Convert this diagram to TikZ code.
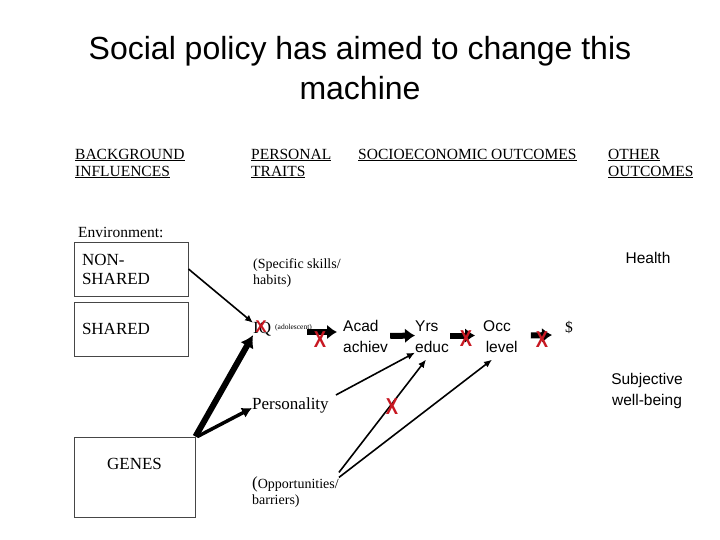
\documentclass[tikz,border=0pt]{standalone}
\usepackage{fontspec}
\setmainfont{Liberation Serif}
\setsansfont{Liberation Sans}
\usetikzlibrary{arrows.meta}
\definecolor{xred}{RGB}{200,24,34}
\definecolor{boxline}{RGB}{70,70,70}
\begin{document}
\begin{tikzpicture}[x=1pt,y=-1pt,
  head/.style={font=\fontsize{15.5}{17}\selectfont, inner sep=0pt, anchor=west, align=left},
  serif/.style={font=\fontsize{#1}{#1}\selectfont, inner sep=0pt, anchor=west, align=left},
  sans/.style={font=\sffamily\fontsize{15.5}{21}\selectfont, inner sep=0pt, align=left},
  bigbox/.style={draw=boxline, line width=1pt, font=\fontsize{17}{19}\selectfont, align=left, inner xsep=8pt},
  redx/.style={text=xred, font=\sffamily\fontsize{23}{23}\selectfont, inner sep=0pt, xscale=0.8},
  thin arrow/.style={line width=1.6pt, -{Latex[length=8pt,width=7pt]}},
  fat arrow/.style={line width=6pt, -{Latex[length=10pt,width=15pt]}},
]
\useasboundingbox (0,0) rectangle (720,540);
\fill[white] (0,0) rectangle (720,540);

% title
\node[font=\sffamily\fontsize{32}{40}\selectfont, align=center] (title) at (360,68)
  {Social policy has aimed to change this\\machine};

% headers
\node[head] (hbg) at (75,163.5) {\underline{BACKGROUND}\\\underline{INFLUENCES}};
\node[head] (hpt) at (251,163.5) {\underline{PERSONAL}\\\underline{TRAITS}};
\node[head] (hse) at (358,155) {\underline{SOCIOECONOMIC OUTCOMES}};
\node[head] (hot) at (608,163.5) {\underline{OTHER}\\\underline{OUTCOMES}};

% background column
\node[serif=15.5] (env) at (78,232) {Environment:};
\node[bigbox, minimum width=114, minimum height=54, text width=98pt] (nonshared) at (131,269) {NON-\\SHARED};
\node[bigbox, minimum width=114, minimum height=54, text width=98pt] (shared) at (131,329) {SHARED};
\node[bigbox, minimum width=121, minimum height=80, align=center, text height=12pt, text depth=28pt] (genes) at (134.5,477) {GENES};

% personal traits column
\node[serif=14, font=\fontsize{14}{16}\selectfont] (skills) at (253,273) {(Specific skills/\\habits)};
\node[serif=17] (iq) at (253,329) {IQ};
\node[serif=7.5] (adol) at (275,328) {(adolescent)};
\node[serif=17] (pers) at (252,405) {Personality};
\node[serif=14, font=\fontsize{14}{16}\selectfont] (opp) at (252,492) {{\fontsize{17}{16}\selectfont(}Opportunities/\\barriers)};

% socioeconomic outcomes
\node[sans, anchor=west] (acad) at (343,336) {Acad\\achiev};
\node[sans, anchor=west] (yrs) at (415,336.5) {Yrs\\educ};
\node[sans, anchor=west] (occ) at (483,336.5) {Occ\\\,level};
\node[serif=15.5] (dollar) at (565,327) {\$};

% other outcomes
\node[sans, align=center] (health) at (648,258) {Health};
\node[sans, align=center] (swb) at (647,390.5) {Subjective\\well-being};

% connectors
\draw[thin arrow] (nonshared.east) -- ([yshift=-1pt]iq.north west);
\draw[line width=6pt, -{Latex[length=12pt,width=15pt]}] (genes.north east) -- ([yshift=1pt]iq.south west);
\draw[line width=3.5pt, -{Latex[length=10pt,width=11pt]}] ([xshift=2pt]genes.north east) -- ([yshift=-3pt]pers.west);
\draw[thin arrow] ([xshift=7pt,yshift=10pt]pers.east) -- (yrs.south west);
\draw[thin arrow] ([yshift=4pt]opp.north east) -- ([xshift=11pt,yshift=-7pt]yrs.south west);
\draw[thin arrow] ([yshift=-1pt]opp.north east) -- ([xshift=9pt,yshift=-7pt]occ.south west);

\draw[fat arrow] ([xshift=-5pt,yshift=-4pt]adol.east) -- ([xshift=-6pt,yshift=4pt]acad.west);
\draw[fat arrow] ([xshift=2pt]acad.east) -- ([yshift=1pt]yrs.west);
\draw[fat arrow] ([xshift=1pt,yshift=1pt]yrs.east) -- ([xshift=-8pt,yshift=1pt]occ.west);
\draw[fat arrow] ([xshift=13pt,yshift=1pt]occ.east) -- ([xshift=-13pt,yshift=-8pt]dollar.west);

% red crosses
\node[redx, font=\sffamily\bfseries\fontsize{17}{17}\selectfont, xscale=1.25] (xiq) at (261,327) {X};
\node[redx, font=\sffamily\bfseries\fontsize{23}{23}\selectfont] (x1) at (320,340) {X};
\node[redx, font=\sffamily\bfseries\fontsize{23}{23}\selectfont] (x2) at (466,339) {X};
\node[redx, font=\sffamily\bfseries\fontsize{23}{23}\selectfont] (x3) at (542,340) {X};
\node[redx, font=\sffamily\bfseries\fontsize{23}{23}\selectfont] (x4) at (392,407) {X};
\end{tikzpicture}
\end{document}
